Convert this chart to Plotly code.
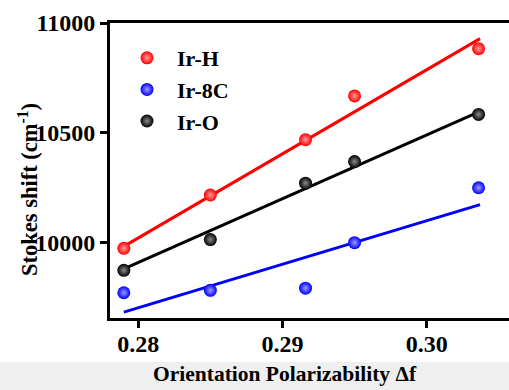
import plotly.graph_objects as go

# Data
delta_f = [0.2790, 0.2850, 0.2916, 0.2950, 0.3036]
ir_h = [9974, 10217, 10469, 10668, 10883]
ir_8c = [9772, 9783, 9793, 10000, 10250]
ir_o = [9874, 10014, 10271, 10369, 10584]

# Linear-fit line end points
fit_x = [0.2790, 0.3037]
fit_h = [9983, 10929]
fit_8c = [9684, 10173]
fit_o = [9881, 10598]

x_ticks = [0.28, 0.29, 0.30]
y_ticks = [10000, 10500, 11000]

FONT = "Liberation Serif"

series = [
    ("Ir-H", ir_h, fit_h, "#ff0000", "#ff9a9a"),
    ("Ir-8C", ir_8c, fit_8c, "#0000ff", "#9a9aff"),
    ("Ir-O", ir_o, fit_o, "#000000", "#8a8a8a"),
]

fig = go.Figure()
for name, ys, fy, col, hi in series:
    fig.add_trace(go.Scatter(
        x=fit_x, y=fy, mode="lines", line=dict(color=col, width=3),
        showlegend=False, hoverinfo="skip"))
for name, ys, fy, col, hi in series:
    fig.add_trace(go.Scatter(
        x=delta_f, y=ys, mode="markers", name=name,
        marker=dict(size=13, color=col,
                    gradient=dict(type="radial", color=hi),
                    line=dict(width=0))))

W, H = 509, 390
ml, mr, mt, mb = 110, 0, 23, 72
pw, ph = W - ml - mr, H - mt - mb

def px_x(p):
    return (p - ml) / pw

def px_y(p):
    return 1 - (p - mt) / ph

fig.add_shape(type="rect", xref="paper", yref="paper",
              x0=px_x(0), x1=px_x(W), y0=px_y(362), y1=px_y(H + 2),
              fillcolor="#efefef", line=dict(width=0), layer="below")

fig.add_annotation(text="Orientation Polarizability Δf", xref="paper", yref="paper",
                   x=px_x(285), y=px_y(374), xanchor="center", yanchor="middle",
                   showarrow=False,
                   font=dict(family=FONT, size=21.5, color="#000", weight="bold"))
fig.add_annotation(text="Stokes shift (cm<sup>-1</sup>)", xref="paper", yref="paper",
                   x=px_x(28), y=px_y(190), xanchor="center", yanchor="middle",
                   showarrow=False, textangle=-90,
                   font=dict(family=FONT, size=22.5, color="#000", weight="bold"))

fig.update_layout(
    width=W, height=H,
    margin=dict(l=ml, r=mr, t=mt, b=mb, pad=0),
    paper_bgcolor="white", plot_bgcolor="white",
    font=dict(family=FONT, color="#000"),
    legend=dict(x=px_x(117), y=px_y(37), xanchor="left", yanchor="top",
                bgcolor="rgba(0,0,0,0)", itemwidth=50,
                font=dict(family=FONT, size=22, color="#000", weight="bold")),
    xaxis=dict(range=[0.27804, 0.30571], tickvals=x_ticks, tickformat=".2f",
               showgrid=False, zeroline=False, showline=True, linecolor="black",
               linewidth=3, mirror=True, ticks="outside", ticklen=7, tickwidth=3,
               tickcolor="black", ticklabelstandoff=-5,
               tickfont=dict(family=FONT, size=24, color="#000", weight="bold")),
    yaxis=dict(range=[9657, 11000], tickvals=y_ticks, tickformat="d",
               showgrid=False, zeroline=False, showline=True, linecolor="black",
               linewidth=3, mirror=False, ticks="outside", ticklen=7, tickwidth=3,
               tickcolor="black",
               tickfont=dict(family=FONT, size=24, color="#000", weight="bold")),
)

fig.write_html("out.html")
